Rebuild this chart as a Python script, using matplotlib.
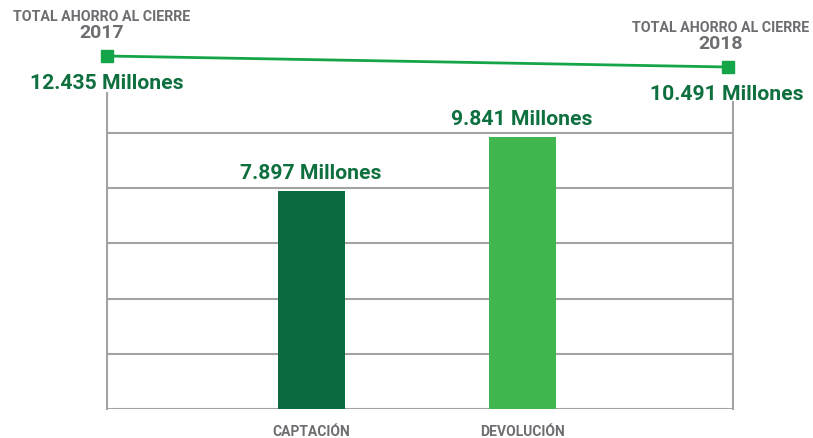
import matplotlib
matplotlib.use('Agg')
import matplotlib.pyplot as plt

plt.rcParams['font.family'] = ['Roboto', 'DejaVu Sans']

# data
categories = ['CAPTACIÓN', 'DEVOLUCIÓN']
values = [7.897, 9.841]
bar_labels = ['7.897 Millones', '9.841 Millones']
years = ['2017', '2018']
totals = [12.435, 10.491]
total_labels = ['12.435 Millones', '10.491 Millones']

DARK = '#0b6b3e'
LIGHT = '#40b64f'
LINE = '#14a548'
TEXT_GREEN = '#0e6f3f'
GRAY = '#6d6e71'
GRID = '#a3a3a3'

W, H = 813, 438
fig = plt.figure(figsize=(W / 100, H / 100), dpi=100)


def box(x0, y0, x1, y1):
    # pixel box (top-left origin) -> figure fraction
    return [x0 / W, 1 - y1 / H, (x1 - x0) / W, (y1 - y0) / H]


# bar axes: pixels 107..733 horizontally, 409 (zero) up to 20
ax = fig.add_axes(box(107, 20, 733, 409))
px_per_unit = 27.6
ax.set_ylim(0, 389 / px_per_unit)
xs = [0, 1]
spacing = 211
ax.set_xlim(-(311 - 107) / spacing, 1 + (733 - 522) / spacing)
ax.bar(xs, values, width=67 / spacing, color=[DARK, LIGHT], zorder=3)

for g in [0, 2, 4, 6, 8, 10]:
    ax.axhline(g, color=GRID, lw=1.5, zorder=1)

for s in ['top', 'bottom']:
    ax.spines[s].set_visible(False)
for s in ['left', 'right']:
    ax.spines[s].set_color(GRID)
    ax.spines[s].set_linewidth(1.5)
ax.spines['left'].set_bounds(0, (409 - 93) / px_per_unit)
ax.spines['right'].set_bounds(0, (409 - 102) / px_per_unit)
ax.set_xticks([])
ax.set_yticks([])
ax.patch.set_alpha(0)

for x, v, lab in zip(xs, values, bar_labels):
    ax.annotate(lab, (x, v), xytext=(0, 9), textcoords='offset points',
                ha='center', va='baseline', fontsize=15.2, fontweight='bold',
                color=TEXT_GREEN)
for x, c in zip(xs, categories):
    ax.annotate(c, (x, 0), xytext=(0.5, -19.5), textcoords='offset points',
                ha='center', va='baseline', fontsize=10, fontweight='bold',
                color=GRAY)

# line axes for yearly totals
lax = fig.add_axes(box(107, 40, 728, 80))
lax.set_xlim(0, 1)
lax.set_ylim(12.435 - 24 / 5.66, 12.435 + 16 / 5.66)
lax.axis('off')
lax.plot([0, 1], totals, color=LINE, lw=2, marker='s', ms=8,
         clip_on=False, zorder=4)

for i, (yr, t, lab) in enumerate(zip(years, totals, total_labels)):
    dx = [-4, -5][i]
    lax.annotate('TOTAL AHORRO AL CIERRE', (i, t), xytext=(dx, 25.5),
                 textcoords='offset points', ha='center', va='baseline',
                 fontsize=10.3, fontweight='bold', color=GRAY)
    lax.annotate(yr, (i, t), xytext=(dx, 13), textcoords='offset points',
                 ha='center', va='baseline', fontsize=14, fontweight='bold',
                 color=GRAY)
    lax.annotate(lab, (i, t), xytext=([0, -1][i], -23.5), textcoords='offset points',
                 ha='center', va='baseline', fontsize=15.2, fontweight='bold',
                 color=TEXT_GREEN)

fig.savefig('out.png', dpi=100)
